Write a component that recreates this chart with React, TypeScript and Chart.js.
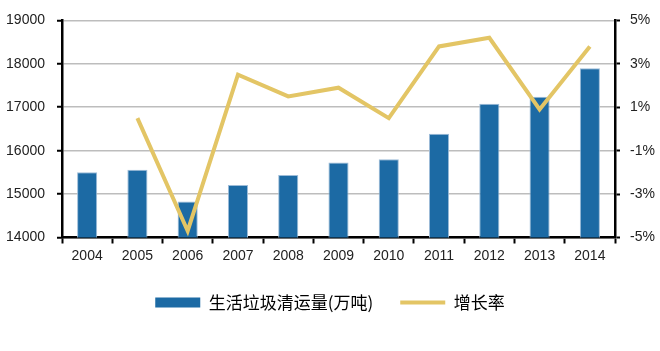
import React, { useEffect, useRef } from "react";
import { Chart, registerables } from "chart.js";

Chart.register(...registerables);

const years = ["2004", "2005", "2006", "2007", "2008", "2009", "2010", "2011", "2012", "2013", "2014"];
const volume = [15500, 15560, 14830, 15210, 15440, 15730, 15800, 16390, 17080, 17240, 17900];
const growth = [null, 0.5, -4.7, 2.5, 1.5, 1.9, 0.5, 3.8, 4.2, 0.9, 3.8];
const volumeLabel = "生活垃圾清运量(万吨)";
const growthLabel = "增长率";

const BAR = "#1C6AA4";
const LINE = "#E3C565";
const TICK_FONT = { family: "'Liberation Sans', Arial, sans-serif", size: 14 };

export default function App() {
  const ref = useRef<HTMLCanvasElement>(null);
  useEffect(() => {
    if (!ref.current) return;
    const chart = new Chart(ref.current, {
      type: "bar",
      data: {
        labels: years,
        datasets: [
          {
            type: "bar",
            label: volumeLabel,
            data: volume,
            backgroundColor: BAR,
            borderColor: "#9DBCD8",
            borderWidth: 1,
            categoryPercentage: 1,
            barPercentage: 0.4,
            yAxisID: "y",
            order: 2,
          },
          {
            type: "line",
            label: growthLabel,
            data: growth,
            borderColor: LINE,
            backgroundColor: LINE,
            borderWidth: 4,
            pointRadius: 0,
            tension: 0,
            yAxisID: "y1",
            order: 1,
          } as any,
        ],
      },
      options: {
        responsive: false,
        animation: false,
        layout: { padding: { top: 19, bottom: 30, left: 0, right: 0 } },
        plugins: {
          tooltip: { enabled: false },
          legend: {
            position: "bottom",
            labels: {
              usePointStyle: true,
              pointStyleWidth: 45,
              boxHeight: 10,
              padding: 27,
              color: "#222",
              font: { family: "'Noto Sans CJK SC', sans-serif", size: 17 },
              generateLabels: () => [
                {
                  text: volumeLabel,
                  fillStyle: BAR,
                  strokeStyle: BAR,
                  lineWidth: 0,
                  pointStyle: "rect",
                  datasetIndex: 0,
                  hidden: false,
                },
                {
                  text: growthLabel,
                  fillStyle: LINE,
                  strokeStyle: LINE,
                  lineWidth: 4,
                  pointStyle: "line",
                  datasetIndex: 1,
                  hidden: false,
                },
              ],
            },
          },
        },
        scales: {
          x: {
            offset: true,
            afterFit: (s: any) => {
              s.height = 29.5;
            },
            grid: {
              offset: true,
              drawOnChartArea: false,
              drawTicks: true,
              tickLength: 6,
              tickColor: "#000",
              tickWidth: 2,
            },
            border: { color: "#000", width: 2.5 },
            ticks: { color: "#222", font: TICK_FONT, padding: 4, maxRotation: 0 },
          },
          y: {
            position: "left",
            min: 14000,
            max: 19000,
            afterFit: (s: any) => {
              s.width = 62;
            },
            ticks: {
              stepSize: 1000,
              color: "#222",
              font: TICK_FONT,
              padding: 12,
              callback: (v: any) => String(v),
            },
            grid: {
              color: "#BDBDBD",
              lineWidth: 1.5,
              tickColor: "#000",
              tickWidth: 2,
              tickLength: 5,
            },
            border: { color: "#000", width: 2.5 },
          },
          y1: {
            position: "right",
            min: -5,
            max: 5,
            afterFit: (s: any) => {
              s.width = 45;
            },
            ticks: {
              stepSize: 2,
              color: "#222",
              font: TICK_FONT,
              padding: 10,
              callback: (v: any) => `${v}%`,
            },
            grid: {
              drawOnChartArea: false,
              tickColor: "#000",
              tickWidth: 2,
              tickLength: 5,
            },
            border: { color: "#000", width: 2.5 },
          },
        },
      },
    });
    return () => chart.destroy();
  }, []);
  return (
    <div style={{ position: "fixed", left: 0, top: 0, width: 660, height: 351, background: "#fff" }}>
      <canvas ref={ref} width={660} height={351} style={{ display: "block" }} />
    </div>
  );
}
